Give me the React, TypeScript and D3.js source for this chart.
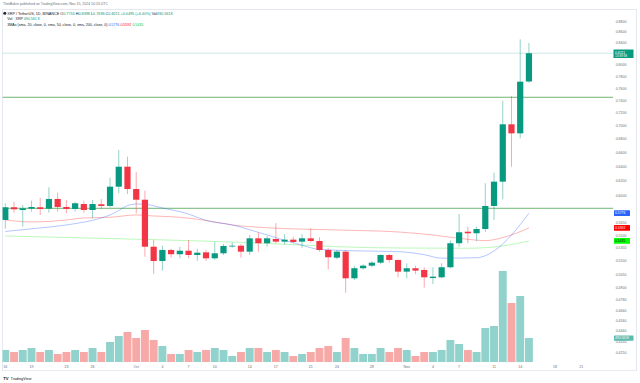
import React from 'react';
import * as d3 from 'd3';

// ---- Data (XRP / TetherUS, 1D, Binance), Sep 16 – Nov 15, 2024 ----
const startDate = new Date(Date.UTC(2024, 8, 16));
const endAxisDate = new Date(Date.UTC(2024, 10, 21));

const opens = [0.5691,0.5852,0.5817,0.5834,0.5852,0.5834,0.5960,0.5856,0.5830,0.5894,
  0.5817,0.5891,0.5869,0.6123,0.6398,0.6092,0.5950,0.5366,0.5200,0.5328,
  0.5278,0.5319,0.5269,0.5300,0.5231,0.5289,0.5375,0.5378,0.5308,0.5466,
  0.5407,0.5458,0.5426,0.5450,0.5426,0.5466,0.5434,0.5328,0.5238,0.5308,
  0.5006,0.5118,0.5147,0.5181,0.5269,0.5212,0.5080,0.5118,0.5099,0.5009,
  0.5017,0.5129,0.5407,0.5546,0.5527,0.5579,0.5869,0.6191,0.7023,0.6885,0.7716];
const highs = [0.5904,0.5924,0.5882,0.5937,0.5973,0.6115,0.6043,0.5947,0.5924,0.5937,
  0.5947,0.5960,0.6245,0.6638,0.6540,0.6324,0.6069,0.5446,0.5378,0.5339,
  0.5366,0.5446,0.5342,0.5328,0.5426,0.5398,0.5419,0.5395,0.5506,0.5539,
  0.5494,0.5650,0.5515,0.5486,0.5515,0.5588,0.5478,0.5348,0.5328,0.5328,
  0.5144,0.5163,0.5200,0.5278,0.5280,0.5220,0.5174,0.5147,0.5129,0.5129,
  0.5174,0.5438,0.5766,0.5608,0.5608,0.6169,0.6314,0.7397,0.7474,0.8466,0.8398];
const lows = [0.5583,0.5783,0.5608,0.5796,0.5754,0.5783,0.5796,0.5775,0.5796,0.5783,
  0.5712,0.5826,0.5852,0.6035,0.6025,0.5775,0.5250,0.5054,0.5091,0.5238,
  0.5231,0.5231,0.5200,0.5200,0.5212,0.5269,0.5355,0.5238,0.5269,0.5308,
  0.5366,0.5407,0.5395,0.5407,0.5355,0.5414,0.5308,0.5106,0.5220,0.4850,
  0.4987,0.5099,0.5129,0.5166,0.5181,0.5017,0.5006,0.5051,0.4904,0.4944,
  0.5006,0.5118,0.5366,0.5407,0.5434,0.5546,0.5691,0.5956,0.6398,0.6810,0.7696];
const closes = [0.5852,0.5826,0.5839,0.5856,0.5830,0.5960,0.5856,0.5830,0.5904,0.5817,
  0.5894,0.5869,0.6123,0.6398,0.6092,0.5950,0.5366,0.5200,0.5328,0.5278,
  0.5319,0.5269,0.5296,0.5231,0.5289,0.5375,0.5378,0.5308,0.5466,0.5407,
  0.5466,0.5426,0.5450,0.5422,0.5466,0.5434,0.5328,0.5243,0.5308,0.5006,
  0.5118,0.5147,0.5181,0.5269,0.5212,0.5080,0.5118,0.5091,0.5017,0.5024,
  0.5129,0.5407,0.5539,0.5527,0.5579,0.5869,0.6191,0.7023,0.6885,0.7713,0.8211];
// volume, millions of XRP
const volumes = [245,204,245,286,204,245,164,204,245,204,
  286,204,409,531,613,491,654,450,327,164,
  164,245,204,245,286,245,123,204,286,286,
  204,245,204,123,164,204,286,327,204,491,
  286,164,164,286,204,286,245,123,204,204,
  245,450,368,245,204,695,736,1860,1206,1349,490.561];

// Moving averages read at sampled days (day index since Sep 16)
const ma20Days = [0,4,7,11,12,13,14,15,16,18,21,23,26,30,34,36,40,45,48,50,54,56,58,60];
const ma20Vals = [0.5549,0.5592,0.5629,0.5716,0.5754,0.5811,0.5873,0.5894,0.5891,0.5843,0.5766,0.5685,0.5629,0.5506,0.5383,0.5334,0.5318,0.5308,0.5273,0.5232,0.5238,0.5316,0.5506,0.5776];
const ma50Days = [0,3,7,9,12,15,17,20,23,26,30,38,45,49,53,55,57,60];
const ma50Vals = [0.5691,0.5666,0.5691,0.5716,0.5725,0.5754,0.5741,0.5725,0.5685,0.5629,0.5595,0.5567,0.5543,0.5506,0.5454,0.5438,0.5475,0.5592];
const ma200Days = [0,11,23,28,34,38,45,53,57,60];
const ma200Vals = [0.5494,0.5466,0.5432,0.5414,0.5386,0.5366,0.5351,0.5348,0.5375,0.5435];

const hLevels = [0.7453, 0.5839];

const priceTicks = [0.88,0.86,0.84,0.80,0.78,0.76,0.74,0.72,0.70,0.68,0.66,0.64,0.62,0.60,0.565,0.55,0.535,0.52,0.505,0.49,0.478,0.466,0.456,0.446,0.435,0.425];
const dateTickDays = ['2024-09-16','2024-09-19','2024-09-23','2024-09-26','2024-10-01','2024-10-04','2024-10-07','2024-10-10','2024-10-14','2024-10-17','2024-10-21','2024-10-24','2024-10-28','2024-11-01','2024-11-04','2024-11-07','2024-11-11','2024-11-14','2024-11-18','2024-11-21'];
const dateTickLabels = ['16','19','23','26','Oct','4','7','10','14','17','21','24','28','Nov','4','7','11','14','18','21'];

const UP = '#089981';
const DOWN = '#f23645';
const VOL_UP = '#92d2cc';
const VOL_DOWN = '#f7a9a7';
const FONT = '"Liberation Sans", Arial, sans-serif';

export default function App() {
  const W = 640, H = 383;
  const dates = opens.map((_, i) => d3.utcDay.offset(startDate, i));
  const x = d3.scaleUtc().domain([startDate, endAxisDate]).range([5.3, 581.3]);
  const y = d3.scaleLog().domain([0.62, 0.88]).range([181, 21.7]);
  const yv = d3.scaleLinear().domain([0, 490.561]).range([362, 338]);
  const bodyW = 6.2;
  const volW = 7.9;

  const maPath = (days: number[], vals: number[]) =>
    d3.line<number>()
      .x((_, k) => x(d3.utcDay.offset(startDate, days[k])))
      .y(v => y(v))
      .curve(d3.curveMonotoneX)(vals) || '';

  const plotRight = 613;
  const last = closes[closes.length - 1];

  const badge = (val: number, text: string, bg: string, fg: string, w = 16) => (
    <g>
      <rect x={614} y={y(val) - 2.9} width={w} height={5.8} rx={0.6} fill={bg} />
      <text x={615} y={y(val) + 1.2} fontSize={3.4} fill={fg} fontFamily={FONT}>{text}</text>
    </g>
  );

  return (
    <svg width={W} height={H} style={{ position: 'absolute', left: 0, top: 0, background: '#fff' }}>
      <defs>
        <clipPath id="plot">
          <rect x={2.5} y={9.5} width={plotRight - 2.5} height={362 - 9.5} />
        </clipPath>
      </defs>
      <rect x={0} y={0} width={W} height={H} fill="#fff" />
      {/* frame */}
      <rect x={2.5} y={9.5} width={634} height={361.2} fill="none" stroke="#e0e3eb" strokeWidth={0.8} />

      <g clipPath="url(#plot)">
        {/* volume */}
        {volumes.map((v, i) => (
          <rect key={'v' + i} x={x(dates[i]) - volW / 2} y={yv(v)} width={volW} height={362 - yv(v)}
            fill={closes[i] >= opens[i] ? VOL_UP : VOL_DOWN} />
        ))}
        {/* horizontal levels */}
        {hLevels.map((p, i) => (
          <line key={'h' + i} x1={2.5} x2={plotRight} y1={y(p)} y2={y(p)} stroke="#5fae62" strokeWidth={0.9} />
        ))}
        {/* last price line */}
        <line x1={2.5} x2={plotRight} y1={y(last)} y2={y(last)} stroke={UP} strokeOpacity={0.3} strokeWidth={0.7} />
        {/* moving averages */}
        <path d={maPath(ma200Days, ma200Vals)} fill="none" stroke="#00e600" strokeOpacity={0.3} strokeWidth={0.9} />
        <path d={maPath(ma50Days, ma50Vals)} fill="none" stroke="#ff1a1a" strokeOpacity={0.4} strokeWidth={0.8} />
        <path d={maPath(ma20Days, ma20Vals)} fill="none" stroke="#2962ff" strokeOpacity={0.45} strokeWidth={0.8} />
        {/* candles */}
        {opens.map((o, i) => {
          const c = closes[i];
          const col = c >= o ? UP : DOWN;
          const cx = x(dates[i]);
          const top = y(Math.max(o, c));
          const bot = y(Math.min(o, c));
          return (
            <g key={'c' + i}>
              <line x1={cx} x2={cx} y1={y(highs[i])} y2={y(lows[i])} stroke={col} strokeOpacity={0.55} strokeWidth={0.8} />
              <rect x={cx - bodyW / 2} y={top} width={bodyW} height={Math.max(0.8, bot - top)} fill={col} />
            </g>
          );
        })}
      </g>

      {/* price axis labels */}
      {priceTicks.map((p, i) => (
        <text key={'p' + i} x={615.7} y={y(p) + 1.2} fontSize={3.5} fill="#6a6d78" fontFamily={FONT}>{p.toFixed(4)}</text>
      ))}
      {/* badges */}
      <g>
        <rect x={613.5} y={y(last) - 3.6} width={20} height={8.4} rx={0.6} fill={UP} />
        <text x={615} y={y(last) + 0.9} fontSize={3.4} fill="#fff" fontFamily={FONT}>{last.toFixed(4)}</text>
        <text x={615} y={y(last) + 4.2} fontSize={3.1} fill="#fff" fontFamily={FONT}>13:39:38</text>
      </g>
      {badge(ma20Vals[ma20Vals.length - 1], '0.5776', '#2962ff', '#fff')}
      {badge(ma50Vals[ma50Vals.length - 1], '0.5592', '#ff0000', '#fff')}
      {badge(ma200Vals[ma200Vals.length - 1], '0.5435', '#00ff00', '#131722')}
      <g>
        <rect x={614} y={yv(volumes[volumes.length - 1]) - 2.6} width={19.5} height={5.4} rx={0.6} fill="#5dbab0" />
        <text x={615} y={yv(volumes[volumes.length - 1]) + 1.2} fontSize={3.3} fill="#fff" fontFamily={FONT}>490.561K</text>
      </g>

      {/* time axis */}
      {dateTickDays.map((d, i) => (
        <text key={'d' + i} x={x(new Date(d + 'T00:00:00Z'))} y={368.3} fontSize={3.6} textAnchor="middle" fill="#6a6d78" fontFamily={FONT}>{dateTickLabels[i]}</text>
      ))}

      {/* header */}
      <text x={3} y={5.3} fontSize={3.5} fill="#6a6d78" fontFamily={FONT}>ThinBakre published on TradingView.com, Nov 15, 2024 10:20 UTC</text>
      <circle cx={4.8} cy={13.2} r={1.5} fill="#23292f" />
      <text x={7.3} y={14.5} fontSize={3.75} fill="#131722" fontFamily={FONT}>
        <tspan>XRP / TetherUS, 1D, BINANCE  </tspan>
        <tspan>O</tspan><tspan fill={UP}>0.7716 </tspan>
        <tspan>H</tspan><tspan fill={UP}>0.8398 </tspan>
        <tspan>L</tspan><tspan fill={UP}>0.7696 </tspan>
        <tspan>C</tspan><tspan fill={UP}>0.8211 +0.0495 (+6.40%) </tspan>
        <tspan>Vol</tspan><tspan fill={UP}>490.561K</tspan>
      </text>
      <text x={7.3} y={20.4} fontSize={3.6} fill="#131722" fontFamily={FONT}>
        <tspan>Vol · XRP  </tspan><tspan fill={UP}>490.561 K</tspan>
      </text>
      <text x={7.3} y={26} fontSize={3.6} fill="#131722" fontFamily={FONT}>
        <tspan>3MAs (sma, 20, close, 0, sma, 50, close, 0, sma, 200, close, 0)  </tspan>
        <tspan fill="#2962ff">0.5776 </tspan>
        <tspan fill="#ff0000"> 0.5592 </tspan>
        <tspan fill="#00c853"> 0.5435</tspan>
      </text>

      {/* TradingView logo */}
      <text x={3.2} y={380} fontSize={4.2} fontWeight="bold" fill="#131722" fontFamily={FONT}>TV</text>
      <text x={10.5} y={380} fontSize={3.8} fill="#131722" fontFamily={FONT}>TradingView</text>
    </svg>
  );
}
